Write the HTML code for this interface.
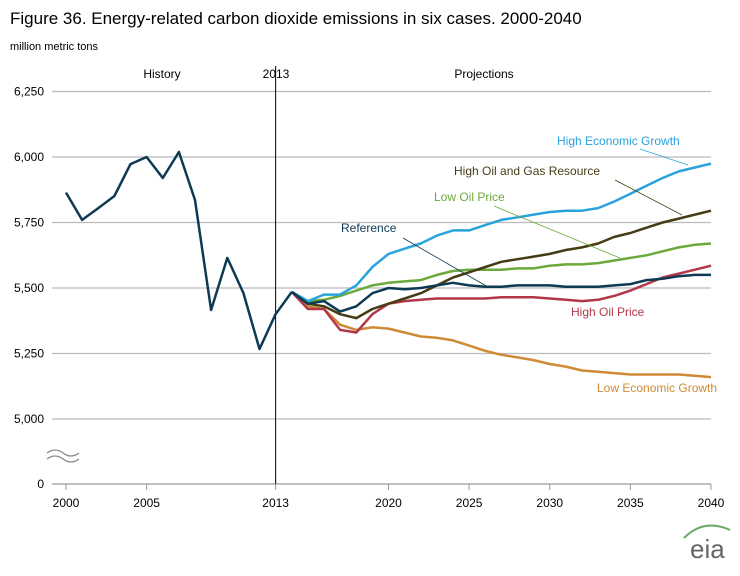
<!DOCTYPE html>
<html><head><meta charset="utf-8"><style>
body{margin:0;background:#fff;font-family:"Liberation Sans",sans-serif}
svg text{font-family:"Liberation Sans",sans-serif}
</style></head><body>
<svg width="740" height="571" viewBox="0 0 740 571">
<text x="10" y="24" font-size="17" fill="#000">Figure 36. Energy-related carbon dioxide emissions in six cases. 2000-2040</text>
<text x="10" y="50" font-size="11" fill="#000">million metric tons</text>
<g id="grid"></g><g id="axes"></g><g id="series"></g><g id="labels"></g>
<text x="162" y="78" font-size="12" text-anchor="middle">History</text>
<text x="276" y="78" font-size="12" text-anchor="middle">2013</text>
<text x="484" y="78" font-size="12" text-anchor="middle">Projections</text>
<g fill="none" stroke="#888" stroke-width="1.2">
<path d="M47 453 q8 -6 16 0 t16 0"/><path d="M47 459 q8 -6 16 0 t16 0"/></g>
<g><text x="690" y="558" font-size="26" fill="#666">eia</text><path d="M684 538 q20 -20 46 -8" stroke="#6a6" stroke-width="2" fill="none"/></g>
</svg>
<script>
const years=[];for(let y=2000;y<=2040;y++)years.push(y);
const xTicks=[2000,2005,2013,2020,2025,2030,2035,2040];
const yTicks=[0,5000,5250,5500,5750,6000,6250];
const yTickLabels=["0","5,000","5,250","5,500","5,750","6,000","6,250"];
const history=[5864,5760,5805,5851,5973,6000,5920,6019,5836,5416,5615,5481,5267,5400,5485];
const reference=[5440,5450,5410,5430,5480,5500,5495,5500,5510,5520,5510,5505,5505,5510,5510,5510,5505,5505,5505,5510,5515,5530,5535,5545,5550,5550];
const highEcon=[5450,5475,5475,5510,5580,5630,5650,5670,5700,5720,5720,5740,5760,5770,5780,5790,5795,5795,5805,5830,5860,5890,5920,5945,5960,5975];
const highOilGas=[5440,5430,5400,5385,5420,5440,5460,5480,5510,5540,5560,5580,5600,5610,5620,5630,5645,5655,5670,5695,5710,5730,5750,5765,5780,5795];
const lowOil=[5450,5455,5470,5490,5510,5520,5525,5530,5550,5565,5570,5570,5570,5575,5575,5585,5590,5590,5595,5605,5615,5625,5640,5655,5665,5670];
const highOilPrice=[5420,5420,5340,5330,5400,5440,5450,5455,5460,5460,5460,5460,5465,5465,5465,5460,5455,5450,5455,5470,5490,5515,5540,5555,5570,5585];
const lowEcon=[5430,5420,5360,5340,5350,5345,5330,5315,5310,5300,5280,5260,5245,5235,5225,5210,5200,5185,5180,5175,5170,5170,5170,5170,5165,5160];
const NS="http://www.w3.org/2000/svg";
const X=y=>66+(y-2000)*(711-66)/40;
const Y=v=>v<=0?484:419-(v-5000)*65.5/250;
function mk(tag,attrs,parent){const e=document.createElementNS(NS,tag);for(const k in attrs)e.setAttribute(k,attrs[k]);document.getElementById(parent).appendChild(e);return e;}
yTicks.forEach((t,i)=>{
 if(t>0){const l=mk('line',{x1:52,x2:711,y1:Y(t),y2:Y(t),stroke:'#bbb','stroke-width':1.3},'grid');
 
 }
 const tx=mk('text',{x:44,y:Y(t)+4,'font-size':12,'text-anchor':'end'},'axes');tx.textContent=yTickLabels[i];
 
 
});
const ax=mk('line',{x1:52,x2:711,y1:484,y2:484,stroke:'#999','stroke-width':1.3},'axes');


const vl=mk('line',{x1:X(2013),x2:X(2013),y1:66,y2:484,stroke:'#000','stroke-width':1},'axes');


xTicks.forEach(t=>{
 const tk=mk('line',{x1:X(t),x2:X(t),y1:484,y2:490,stroke:'#999'},'axes');
 
 
 const tx=mk('text',{x:X(t),y:507,'font-size':12,'text-anchor':'middle'},'axes');tx.textContent=t;
 
 
});
function line(vals,start,color,name){
 const pts=vals.map((v,i)=>X(start+i).toFixed(1)+','+Y(v).toFixed(1)).join(' ');
 const p=mk('polyline',{points:pts,fill:'none',stroke:color,'stroke-width':2.5,'stroke-linejoin':'round'},'series');
 
 
}
const last=history[history.length-1];
line([last].concat(lowEcon),2014,'#d08a36','low-economic-growth-line');
line([last].concat(highOilPrice),2014,'#b0384a','high-oil-price-line');
line([last].concat(lowOil),2014,'#6aaa3a','low-oil-price-line');
line([last].concat(highOilGas),2014,'#463c14','high-oil-gas-resource-line');
line([last].concat(highEcon),2014,'#2aa3dd','high-economic-growth-line');
line([last].concat(reference),2014,'#0e3a53','reference-line');
line(history,2000,'#0e3a53','history-line');
function lab(txt,x,y,c,name,lx1,ly1,lx2,ly2){
 const t=mk('text',{x:x,y:y,'font-size':12,fill:c},'labels');t.textContent=txt;
 
 
 if(lx1!==undefined){const l=mk('line',{x1:lx1,y1:ly1,x2:lx2,y2:ly2,stroke:c,'stroke-width':0.8},'labels');
 
 }
}
lab('High Economic Growth',557,145,'#2aa3dd','high-economic-growth-label',640,149,688,165);
lab('High Oil and Gas Resource',454,175,'#463c14','high-oil-gas-resource-label',615,180,682,215);
lab('Low Oil Price',434,201,'#6aaa3a','low-oil-price-label',494,206,620,258);
lab('Reference',341,232,'#0e3a53','reference-label',403,238,488,287);
lab('High Oil Price',571,316,'#b0384a','high-oil-price-label');
lab('Low Economic Growth',597,392,'#d08a36','low-economic-growth-label');
</script>
</body></html>
